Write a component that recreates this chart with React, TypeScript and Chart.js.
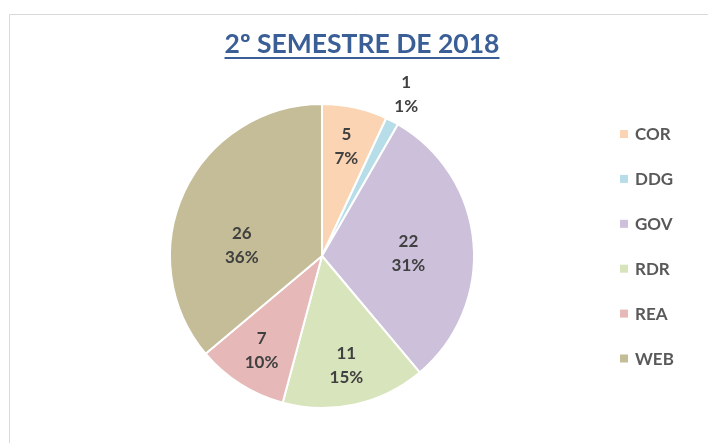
import React, { useEffect, useRef } from "react";
import { Chart, registerables } from "chart.js";

Chart.register(...registerables);

const title = "2º SEMESTRE DE 2018";
const categories = ["COR", "DDG", "GOV", "RDR", "REA", "WEB"];
const values = [5, 1, 22, 11, 7, 26];
const colors = ["#FBD4B4", "#B7DEE8", "#CCC0DA", "#D8E4BC", "#E6B8B7", "#C4BD97"];

const FONT = "Lato, 'Open Sans', sans-serif";

const decorPlugin = {
  id: "decor",
  beforeDraw(chart: any) {
    const ctx = chart.ctx;
    ctx.save();
    ctx.fillStyle = "#ffffff";
    ctx.fillRect(0, 0, chart.width, chart.height);
    ctx.strokeStyle = "#D9D9D9";
    ctx.lineWidth = 1;
    ctx.beginPath();
    ctx.moveTo(9.5, chart.height + 5);
    ctx.lineTo(9.5, 14.5);
    ctx.lineTo(chart.width + 5, 14.5);
    ctx.stroke();
    // title
    ctx.font = `bold 26.5px ${FONT}`;
    ctx.fillStyle = "#3A5E96";
    ctx.textAlign = "center";
    ctx.textBaseline = "alphabetic";
    const tx = 362;
    const ty = 53;
    ctx.fillText(title, tx, ty);
    const w = ctx.measureText(title).width;
    ctx.fillRect(tx - w / 2, ty + 4, w, 2);
    ctx.restore();
  },
  afterDatasetsDraw(chart: any) {
    const ctx = chart.ctx;
    const meta = chart.getDatasetMeta(0);
    const data = chart.data.datasets[0].data as number[];
    const total = data.reduce((a: number, b: number) => a + b, 0);
    ctx.save();
    ctx.font = `bold 17px ${FONT}`;
    ctx.fillStyle = "#404040";
    ctx.textAlign = "center";
    ctx.textBaseline = "middle";
    meta.data.forEach((arc: any, i: number) => {
      const v = data[i];
      const frac = v / total;
      const span = arc.endAngle - arc.startAngle;
      let ang = (arc.startAngle + arc.endAngle) / 2;
      const R = arc.outerRadius;
      let r = 0.74 * R;
      if (frac < 0.03) {
        r = R * 1.2;
      } else if (frac > 0.25) {
        // sector centroid, pulled toward the horizontal (best-fit style)
        r = (2 * R * Math.sin(span / 2)) / (3 * (span / 2));
        const target = Math.cos(ang) >= 0 ? 0 : Math.PI;
        let d = target - ang;
        while (d > Math.PI) d -= 2 * Math.PI;
        while (d < -Math.PI) d += 2 * Math.PI;
        ang += d * 0.7;
      }
      const x = arc.x + Math.cos(ang) * r;
      const y = arc.y + Math.sin(ang) * r;
      ctx.fillText(String(v), x, y - 12);
      ctx.fillText(Math.round(frac * 100) + "%", x, y + 12);
    });
    // legend
    const labels = chart.data.labels as string[];
    const bg = chart.data.datasets[0].backgroundColor as string[];
    ctx.textAlign = "left";
    labels.forEach((lab, i) => {
      const cy = 134 + i * 44.9;
      ctx.fillStyle = bg[i];
      ctx.fillRect(620, cy - 4, 8, 8);
      ctx.fillStyle = "#595959";
      ctx.fillText(lab, 635, cy + 1);
    });
    ctx.restore();
  },
};

export default function App() {
  const ref = useRef<HTMLCanvasElement>(null);
  useEffect(() => {
    if (!ref.current) return;
    const chart = new Chart(ref.current, {
      type: "pie",
      data: {
        labels: categories,
        datasets: [
          {
            data: values,
            backgroundColor: colors,
            borderColor: "#ffffff",
            borderWidth: 2,
          },
        ],
      },
      options: {
        animation: false,
        responsive: false,
        layout: { padding: { left: 169, right: 233, top: 103, bottom: 34 } },
        plugins: {
          legend: { display: false },
          tooltip: { enabled: false },
          title: { display: false },
        },
      },
      plugins: [decorPlugin],
    });
    return () => chart.destroy();
  }, []);
  return (
    <div style={{ position: "fixed", left: 0, top: 0, width: 708, height: 443, background: "#fff" }}>
      <canvas ref={ref} width={708} height={443} style={{ width: 708, height: 443 }} />
    </div>
  );
}
